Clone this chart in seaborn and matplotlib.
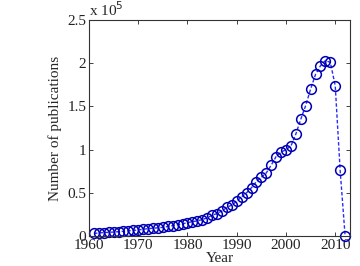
import numpy as np
import matplotlib
matplotlib.use("Agg")
import matplotlib.pyplot as plt
import seaborn as sns
from matplotlib.ticker import FuncFormatter

# ---- data (publications in units of 1e5) ----
years = list(range(1961, 2013))
pubs_1e5 = [0.030, 0.035, 0.040, 0.042, 0.046, 0.050, 0.055, 0.060, 0.065, 0.070,
            0.078, 0.085, 0.090, 0.095, 0.100, 0.110, 0.120, 0.130, 0.140, 0.155,
            0.165, 0.175, 0.190, 0.210, 0.240, 0.260, 0.290, 0.330, 0.360, 0.400,
            0.455, 0.500, 0.560, 0.630, 0.680, 0.730, 0.820, 0.920, 0.970, 1.000,
            1.040, 1.180, 1.350, 1.510, 1.700, 1.870, 1.970, 2.030, 2.010, 1.740,
            0.760, 0.005]
pubs = [v * 1e5 for v in pubs_1e5]

x_ticks = [1960, 1970, 1980, 1990, 2000, 2010]
y_ticks = [0, 0.5e5, 1e5, 1.5e5, 2e5, 2.5e5]

# ---- style ----
sns.set_style("ticks")
plt.rcParams['font.family'] = ['Liberation Serif', 'DejaVu Serif']
plt.rcParams['font.size'] = 11

fig = plt.figure(figsize=(3.6, 2.66), dpi=100)
ax = fig.add_subplot(111)
fig.subplots_adjust(left=89/360, right=350/360, top=1-20/266, bottom=1-236/266)

sns.lineplot(x=years, y=pubs, ax=ax, color='#2a2aff', linestyle=(0, (2.5, 1.5)),
             linewidth=1.0, marker='o', markersize=7, markerfacecolor='none',
             markeredgecolor='#0000b4', markeredgewidth=1.1, clip_on=False)

ax.set_xlim(1960, 2013)
ax.set_ylim(0, 2.5e5)
ax.set_xticks(x_ticks)
ax.set_yticks(y_ticks)
ax.yaxis.set_major_formatter(FuncFormatter(lambda v, p: f"{v/1e5:g}"))
ax.tick_params(direction='in', length=3, width=0.6, top=True, right=True,
               labelsize=11, colors='#222222', pad=2)
for s in ax.spines.values():
    s.set_visible(True)
    s.set_linewidth(0.8)
    s.set_color('#333333')

ax.set_xlabel('Year', fontsize=11, labelpad=0)
ax.set_ylabel('Number of publications', fontsize=11, labelpad=4)
ax.text(0.0, 1.005, r'x 10$^5$', transform=ax.transAxes, fontsize=11,
        ha='left', va='bottom')

fig.savefig('out.png', dpi=100)
